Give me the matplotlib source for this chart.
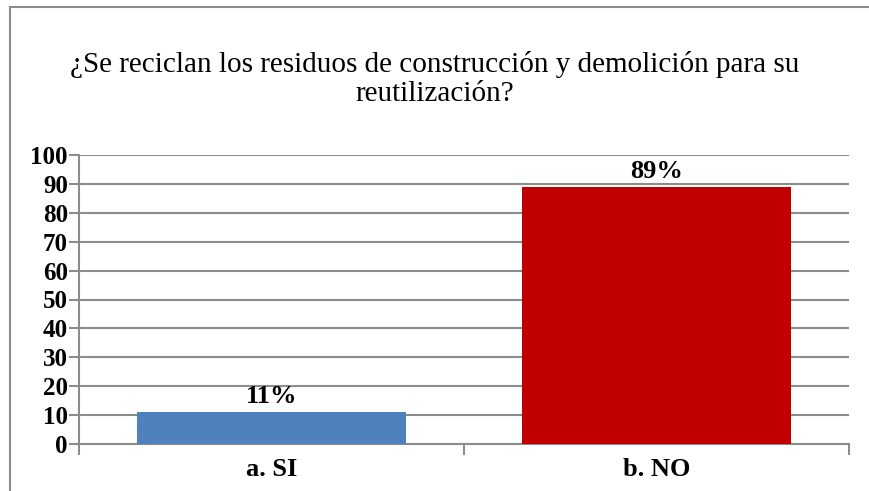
import matplotlib.pyplot as plt
from matplotlib.patches import Rectangle

categories = ['a. SI', 'b. NO']
values = [11, 89]
bar_labels = ['11%', '89%']
colors = ['#4F81BD', '#C00000']
title = '¿Se reciclan los residuos de construcción y demolición para su\nreutilización?'

plt.rcParams['font.family'] = ['Liberation Serif', 'DejaVu Serif']

fig = plt.figure(figsize=(8.7, 4.91), dpi=100)
# outer chart frame (right and bottom edges are cut off in the original)
fig.patches.append(Rectangle((10 / 870, -0.05), 1.0, 1 - 7 / 491 + 0.05,
                             transform=fig.transFigure, fill=False,
                             edgecolor='#8c8c8c', linewidth=1.5))

ax = fig.add_axes([79 / 870, 1 - 444 / 491, (849 - 79) / 870, (444 - 155) / 491])
x = range(len(categories))
ax.bar(x, values, width=0.7, color=colors, zorder=3)
for i, (v, lab) in enumerate(zip(values, bar_labels)):
    ax.annotate(lab, (i, v), xytext=(0, 3), textcoords='offset points',
                ha='center', va='bottom', fontsize=19, fontweight='bold')

ax.set_xlim(-0.5, len(categories) - 0.5)
ax.set_ylim(0, 100)
ax.set_yticks(range(0, 101, 10))
ax.yaxis.grid(True, color='#8c8c8c', linewidth=1.5, zorder=0)
ax.set_axisbelow(True)

# category labels without ticks, ticks between categories
ax.set_xticks(list(x))
ax.set_xticklabels(categories, fontsize=19, fontweight='bold')
ax.tick_params(axis='x', length=0, pad=10)
ax.set_xticks([-0.5, 0.5, 1.5], minor=True)
ax.tick_params(axis='x', which='minor', length=8, width=1.5, color='#8c8c8c')
ax.tick_params(axis='y', length=7, width=1.5, color='#8c8c8c', labelsize=18, pad=1)
for t in ax.get_yticklabels():
    t.set_fontweight('bold')

for s in ['top', 'right']:
    ax.spines[s].set_visible(False)
for s in ['left', 'bottom']:
    ax.spines[s].set_color('#8c8c8c')
    ax.spines[s].set_linewidth(1.5)

fig.text(0.5, 1 - 79 / 491, title, ha='center', va='center', fontsize=21,
         linespacing=1.15)

fig.savefig('out.png', dpi=100)
